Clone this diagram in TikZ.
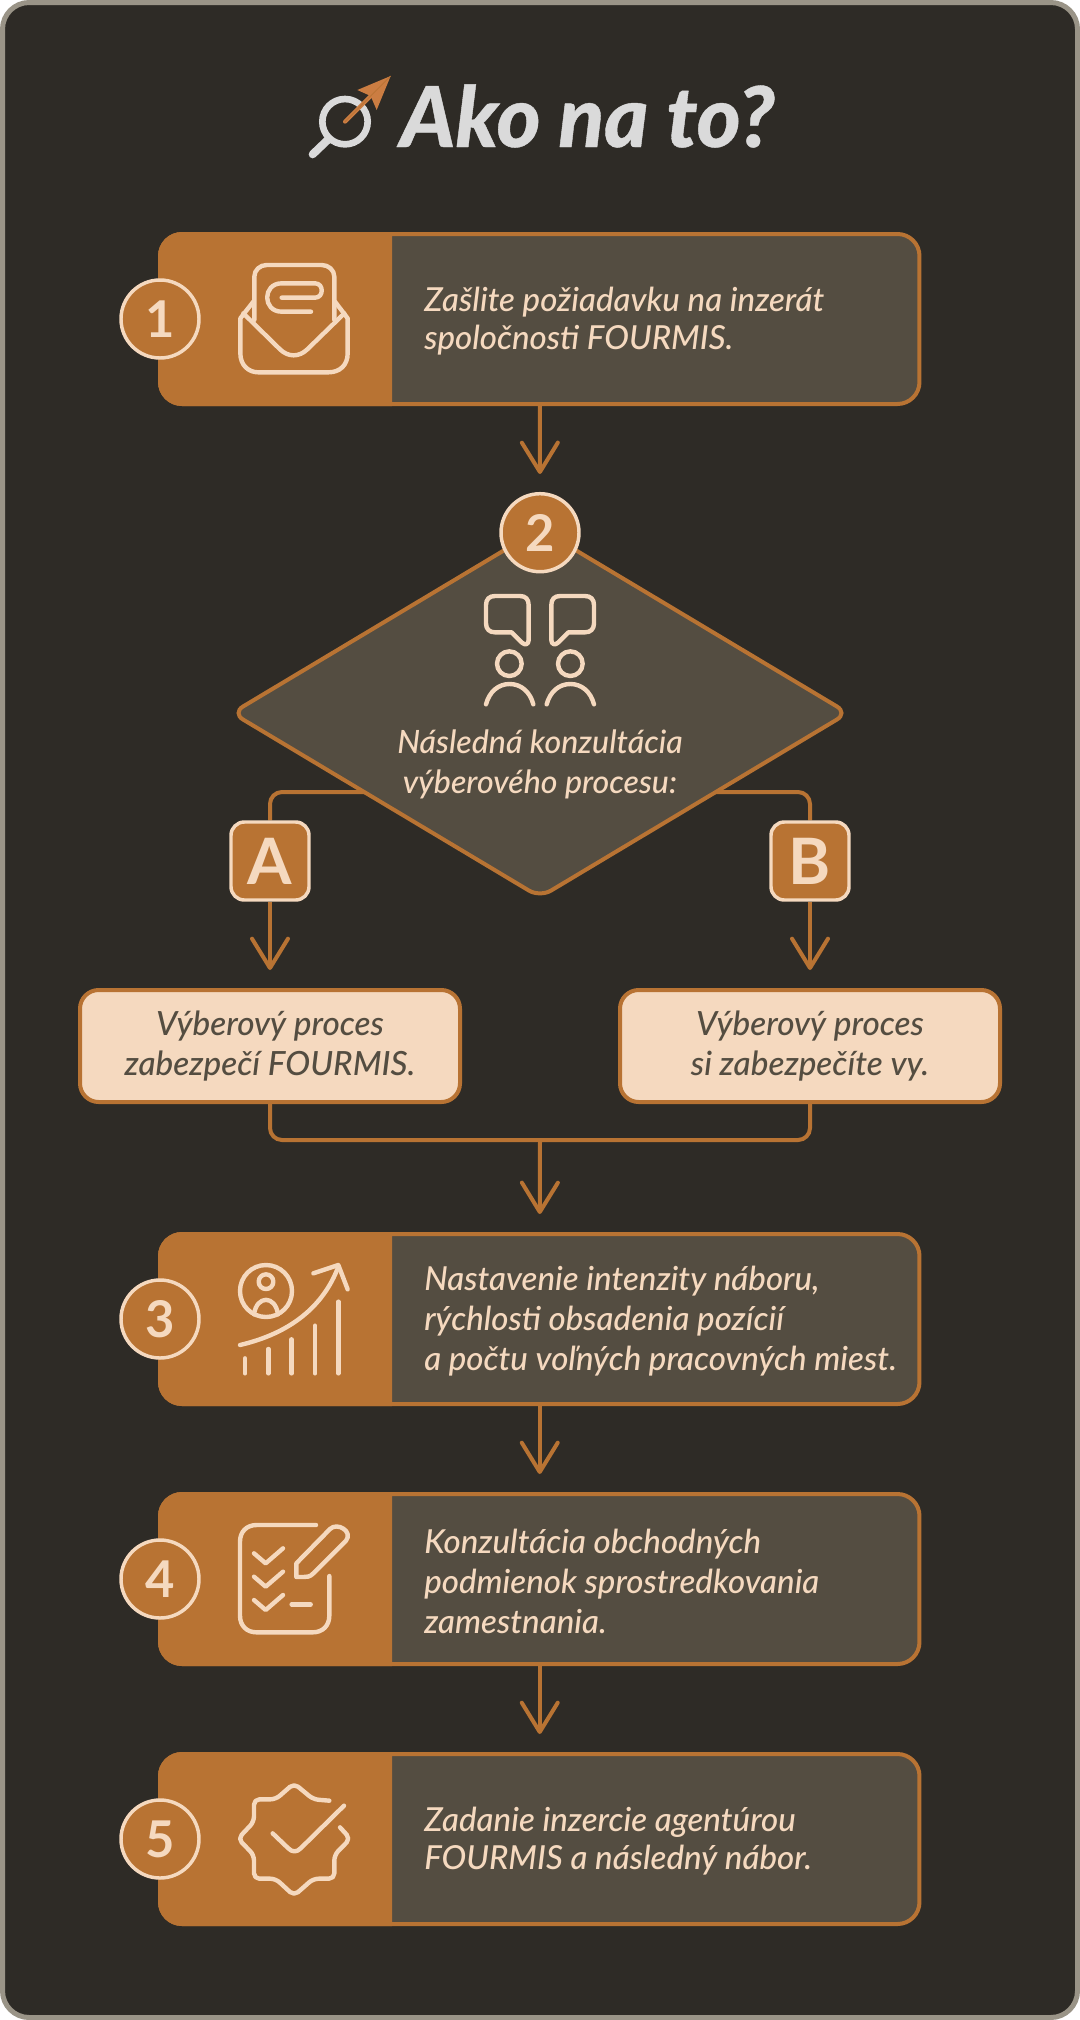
\documentclass[tikz,border=0pt]{standalone}
\usepackage{fontspec}
\setmainfont{Lato}
\newfontfamily\titlefont[FakeBold=0.5]{Lato Black Italic}
\newfontfamily\bodyfam{Lato Medium Italic}
\usetikzlibrary{arrows.meta,shapes.geometric}
\definecolor{bgc}{HTML}{2E2B26}
\definecolor{panel}{HTML}{544D41}
\definecolor{orng}{HTML}{B87333}
\definecolor{cream}{HTML}{F5D9BF}
\definecolor{framec}{HTML}{9A9487}
\definecolor{titlec}{HTML}{DADADA}
\definecolor{arrowc}{HTML}{CB7D42}
\pgfdeclarelayer{back}\pgfdeclarelayer{conn}
\pgfsetlayers{back,conn,main}
\newcommand{\bodyf}{\bodyfam\fontsize{24.8pt}{30pt}\selectfont}
\newcommand{\optf}{\bodyfam\fontsize{25pt}{30pt}\selectfont}
\newcommand{\diaf}{\bodyfam\fontsize{24.1pt}{30pt}\selectfont}
\tikzset{
  conn/.style={draw=orng,line width=3pt},
  flow/.style={conn,-{Straight Barb[length=22pt,width=27pt,round]},shorten >=13.5pt},
  stepframe/.style={rounded corners=16.5pt,draw=orng,fill=panel,line width=3pt,minimum width=569.6pt,minimum height=127.5pt,inner sep=0pt},
  numc/.style={circle,draw=cream,fill=orng,line width=2.6pt,minimum size=58.5pt,inner sep=0pt,text=cream,font=\fontsize{38pt}{38pt}\selectfont\bfseries},
  letterb/.style={rounded corners=10pt,draw=cream,fill=orng,line width=2.6pt,minimum size=58.5pt,inner sep=0pt,text=cream,font=\fontsize{48pt}{48pt}\selectfont\bfseries},
  optbox/.style={rounded corners=14pt,draw=orng,fill=cream,line width=3pt,minimum width=285pt,minimum height=84pt,inner sep=0pt,text=panel,font=\optf,align=center},
  bodyt/.style={inner sep=0pt,text=cream,font=\bodyf,align=left,anchor=west},
  icon/.style={draw=cream,line width=3.3pt,line cap=round,line join=round},
  zoomed/.style={x=.25pt,y=-.25pt}
}
\newcommand{\stepbox}[4]{%
  \node[stepframe] (b#1) at (539.75,#2) {};
  \fill[orng] (392,#2-87) {[rounded corners=18pt] -- (158,#2-87) -- (158,#2+87)} -- (392,#2+87) -- cycle;
  \node[numc] (n#1) at (160,#2) {#3};
  \node[bodyt] (t#1) at (424,#2+2) {#4};
}
\begin{document}
\begin{tikzpicture}[x=.75pt,y=-.75pt]
\useasboundingbox (0,0) rectangle (1080,2020);
\begin{pgfonlayer}{back}
  \fill[white] (0,0) rectangle (1080,2020);
  \draw[framec,fill=bgc,line width=3.75pt,rounded corners=20pt] (2.5,2.5) rectangle (1077.5,2017.5);
\end{pgfonlayer}

% title
\node[inner sep=0pt,anchor=base west,text=titlec,font=\titlefont\fontsize{63pt}{63pt}\selectfont] (title) at (400,147) {Ako na to?};
\begin{scope}[shift={(300,60)},zoomed]
  \draw[titlec,line width=5pt] (135,185) circle (68);
  \draw[titlec,line width=6pt,line cap=round] (38,283) -- (85,238);
  \draw[arrowc,line width=3pt,line cap=round] (135,185) -- (230,90);
  \fill[arrowc] (272,48) -- (172,90) -- (212,108) -- (230,150) -- cycle;
  \draw[orng,line width=.6pt] (135,185) -- (272,48);
\end{scope}

% steps
\stepbox{1}{319}{1}{Zašlite požiadavku na inzerát\\[-1.5pt]spoločnosti FOURMIS.}
\stepbox{3}{1319}{3}{Nastavenie intenzity náboru,\\rýchlosti obsadenia pozícií\\a počtu voľných pracovných miest.}
\stepbox{4}{1579}{4}{Konzultácia obchodných\\podmienok sprostredkovania\\zamestnania.}
\stepbox{5}{1839}{5}{Zadanie inzercie agentúrou\\[-1.5pt]FOURMIS a následný nábor.}

% diamond
\node[diamond,aspect=1.676,rounded corners=9.5pt,draw=orng,fill=panel,line width=3pt,minimum width=463pt,minimum height=277.5pt,inner sep=0pt] (dia) at (540,713) {};
\node[numc] (n2) at (540,532.7) {2};
\node[inner sep=0pt,text=cream,font=\diaf,align=center] (dt) at (540,764.5) {Následná konzultácia\\výberového procesu:};

% options
\node[letterb] (la) at (270,861) {A};
\node[letterb] (lb) at (810,861) {B};
\node[optbox] (oa) at (270,1046) {Výberový proces\\zabezpečí FOURMIS.};
\node[optbox] (ob) at (810,1046) {Výberový proces\\si zabezpečíte vy.};

% connectors
\coordinate (brl) at (540,792);
\coordinate (brr) at (540,792);
\coordinate (merge) at (540,1140);
\begin{pgfonlayer}{conn}
  \draw[flow] (b1.south) -- (n2.north);
  \draw[conn,rounded corners=9pt] (brl) -| (la.north);
  \draw[conn,rounded corners=9pt] (brr) -| (lb.north);
  \draw[flow] (la.south) -- (oa.north);
  \draw[flow] (lb.south) -- (ob.north);
  \draw[conn,rounded corners=9pt] (oa.south) |- (merge);
  \draw[conn,rounded corners=9pt] (ob.south) |- (merge);
  \draw[flow] (merge) -- (b3.north);
  \draw[flow] (b3.south) -- (b4.north);
  \draw[flow] (b4.south) -- (b5.north);
\end{pgfonlayer}

% icon 1: envelope
\begin{scope}[shift={(225,250)},zoomed]
  \draw[icon] (88,210) -- (88,80) to[out=90,in=180] (125,45) -- (290,45) to[out=0,in=90] (328,80) -- (328,210);
  \draw[icon] (85,155) -- (46,205) -- (46,310) .. controls (46,345) and (70,367) .. (100,367) -- (310,367) .. controls (345,367) and (368,345) .. (368,310) -- (368,205) -- (330,155);
  \draw[icon] (55,190) -- (165,298) .. controls (190,322) and (222,322) .. (247,298) -- (358,190);
  \draw[icon] (170,143) -- (270,143) .. controls (297,143) and (297,100) .. (270,100) -- (170,100) .. controls (112,100) and (112,185) .. (170,185) -- (258,185);
\end{scope}

% icon 2: people
\begin{scope}[shift={(470,585)},zoomed]
  \draw[icon] (125,142) -- (75,142) .. controls (58,142) and (48,132) .. (48,115) -- (48,60) .. controls (48,43) and (58,33) .. (75,33) -- (150,33) .. controls (167,33) and (176,43) .. (176,60) -- (176,165) .. controls (176,178) and (165,182) .. (156,173) -- cycle;
  \draw[icon] (295,142) -- (345,142) .. controls (362,142) and (372,132) .. (372,115) -- (372,60) .. controls (372,43) and (362,33) .. (345,33) -- (270,33) .. controls (253,33) and (244,43) .. (244,60) -- (244,165) .. controls (244,178) and (255,182) .. (264,173) -- cycle;
  \draw[icon] (118,236) circle (37);
  \draw[icon] (301,236) circle (37);
  \draw[icon] (48,358) .. controls (58,320) and (85,297) .. (119,297) .. controls (153,297) and (180,320) .. (190,358);
  \draw[icon] (230,358) .. controls (240,320) and (267,297) .. (301,297) .. controls (335,297) and (362,320) .. (372,358);
\end{scope}

% icon 3: growth
\begin{scope}[shift={(100,1220)},zoomed]
  \draw[icon] (498,213) circle (78);
  \draw[icon] (498,185) circle (22);
  \draw[icon] (462,283) .. controls (470,225) and (526,225) .. (534,283);
  \draw[icon] (420,375) .. controls (570,340) and (670,260) .. (715,140);
  \draw[icon] (640,160) -- (715,135) -- (743,208);
  \foreach \bx/\by in {435/415,505/387,575/358,645/317,715/245}
    \draw[icon] (\bx,\by) -- (\bx,460);
\end{scope}

% icon 4: checklist
\begin{scope}[shift={(100,1220)},zoomed]
  \draw[icon] (648,915) -- (470,915) .. controls (440,915) and (420,935) .. (420,965) -- (420,1187) .. controls (420,1217) and (440,1237) .. (470,1237) -- (638,1237) .. controls (668,1237) and (688,1217) .. (688,1187) -- (688,1068);
  \foreach \dy in {0,70,140}
    \draw[icon] (462,1000+\dy) -- (497,1030+\dy) -- (549,985+\dy);
  \draw[icon] (575,1153) -- (632,1153);
  \draw[icon] (589,1071) -- (589,1030) -- (690,927) .. controls (712,905) and (760,935) .. (738,962) -- (640,1060) .. controls (630,1071) and (620,1071) .. (610,1071) -- cycle;
\end{scope}

% icon 5: badge
\begin{scope}[shift={(100,1740)},zoomed]
  \draw[icon,rounded corners=4pt] (688,182) -- (640,178) -- (582,130) -- (527,178) -- (462,178) -- (462,245) -- (414,296) -- (462,345) -- (462,416) -- (527,416) -- (582,467) -- (640,416) -- (703,416) -- (703,345) -- (751,296) -- (720,262);
  \draw[icon] (518,280) -- (565,325) .. controls (577,337) and (590,337) .. (602,325) -- (732,197);
\end{scope}
\end{tikzpicture}
\end{document}
